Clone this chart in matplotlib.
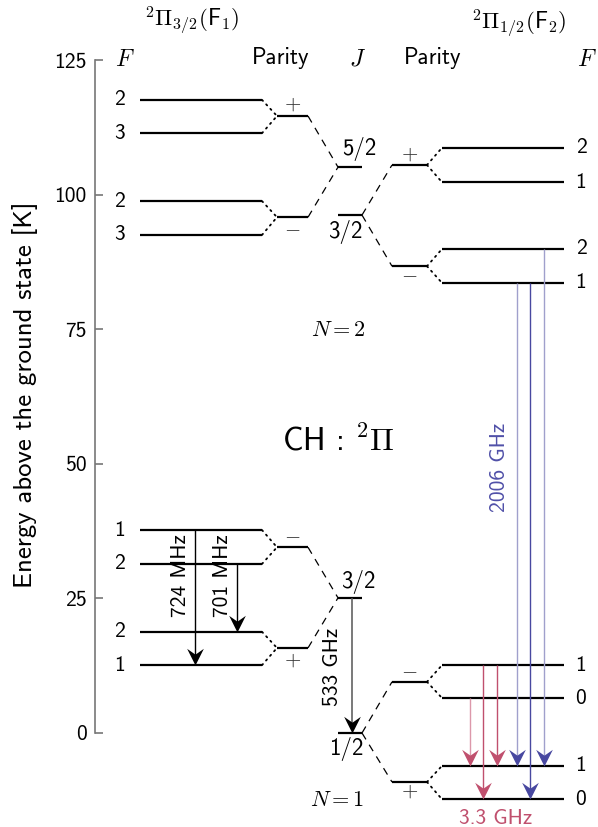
import matplotlib
matplotlib.use("Agg")
import matplotlib.pyplot as plt
from matplotlib.path import Path

plt.rcParams['font.family'] = ['cmss10', 'DejaVu Sans']
plt.rcParams['mathtext.fontset'] = 'cm'
plt.rcParams['axes.unicode_minus'] = False

# ---------------- data (energies in K) ----------------
# N = 2 manifold
f1_n2_parity = ['+', '-']
f1_n2_parity_E = [114.6, 95.8]
f1_n2_F = [[2, 3], [2, 3]]
f1_n2_F_E = [[117.6, 111.4], [98.8, 92.5]]
J_n2 = ['5/2', '3/2']
J_n2_E = [105.1, 96.2]
f2_n2_parity = ['+', '-']
f2_n2_parity_E = [105.5, 86.7]
f2_n2_F = [[2, 1], [2, 1]]
f2_n2_F_E = [[108.7, 102.3], [89.9, 83.6]]

# N = 1 manifold
f1_n1_parity = ['-', '+']
f1_n1_parity_E = [34.5, 15.8]
f1_n1_F = [[1, 2], [2, 1]]
f1_n1_F_E = [[37.7, 31.4], [18.8, 12.6]]
J_n1 = ['3/2', '1/2']
J_n1_E = [25.1, 0.0]
f2_n1_parity = ['-', '+']
f2_n1_parity_E = [9.5, -9.1]
f2_n1_F = [[1, 0], [1, 0]]
f2_n1_F_E = [[12.6, 6.5], [-6.1, -12.3]]

# transitions (upper E, lower E)
trans_724 = (37.7, 12.6)
trans_701 = (31.4, 18.8)
trans_533 = (25.1, 0.0)
trans_2006 = [(83.6, -6.1), (83.6, -12.3), (89.9, -6.1)]
trans_3p3 = [(6.5, -6.1), (12.6, -12.3), (12.6, -6.1)]

yticks = [0, 25, 50, 75, 100, 125]

# ---------------- layout ----------------
W, H = 598, 827
px_per_K = 673 / 125.0
y0_px = 733
fig = plt.figure(figsize=(W / 100, H / 100), dpi=100)
ax = fig.add_axes([95 / W, 0, 1 - 95 / W, 1])
ax.set_xlim(95, W)
ax.set_ylim(-(H - y0_px) / px_per_K, y0_px / px_per_K)
for s in ['top', 'right', 'bottom']:
    ax.spines[s].set_visible(False)
ax.spines['left'].set_bounds(0, 125)
ax.spines['left'].set_color('#777777')
ax.spines['left'].set_linewidth(1.2)
ax.set_xticks([])
ax.set_yticks(yticks)
ax.set_yticklabels([str(t) for t in yticks])
ax.tick_params(axis='y', direction='in', length=6, color='#777777', width=1.2,
               labelsize=15.5, pad=6)
fig.text(25 / W, 1 - 395 / H, 'Energy above the ground state [K]', rotation=90,
         ha='center', va='center', fontsize=19.3)


def ypx(p):
    return (y0_px - p) / px_per_K


# x positions (pixel-like data units)
F1_x = (140, 262)
P1_x = (277, 308)
J_x = (338, 362)
P2_x = (392, 427)
F2_x = (442, 564)
F1_lab_x = 119
F2_lab_x = 581

lvl = dict(color='black', lw=1.6, solid_capstyle='butt')
dot = dict(color='black', lw=1.3, linestyle=(0, (0.8, 2.6)), dash_capstyle='round')
dash = dict(color='black', lw=0.9, linestyle=(0, (6, 5)))
fs = 15.5


def sign(s):
    return r'$+$' if s == '+' else r'$-$'


def manifold(f1p, f1pE, f1F, f1FE, Jl, JE, f2p, f2pE, f2F, f2FE, jpos):
    for i in range(2):
        pe = f1pE[i]
        ax.plot(P1_x, [pe, pe], **lvl)
        dy = 2.2 if i == 0 else -2.2
        ax.text(sum(P1_x) / 2, pe + dy, sign(f1p[i]), ha='center', va='center',
                fontsize=15, color='#333333')
        for fval, fe in zip(f1F[i], f1FE[i]):
            ax.plot(F1_x, [fe, fe], **lvl)
            ax.plot([F1_x[1], P1_x[0]], [fe, pe], **dot)
            ax.text(F1_lab_x, fe, str(fval), ha='center', va='center', fontsize=fs)
        ax.plot([P1_x[1], J_x[0]], [pe, JE[0]], **dash)
    for k in range(2):
        ax.plot(J_x, [JE[k], JE[k]], **lvl)
    (xa, ya), (xb, yb) = jpos
    ax.text(xa, JE[0] + ya, Jl[0], ha='center', va='center', fontsize=16.5)
    ax.text(xb, JE[1] + yb, Jl[1], ha='center', va='center', fontsize=16.5)
    for i in range(2):
        pe = f2pE[i]
        ax.plot(P2_x, [pe, pe], **lvl)
        dy = 2.0 if i == 0 else -1.6
        ax.text(sum(P2_x) / 2, pe + dy, sign(f2p[i]), ha='center', va='center',
                fontsize=15, color='#333333')
        ax.plot([J_x[1], P2_x[0]], [JE[1], pe], **dash)
        for fval, fe in zip(f2F[i], f2FE[i]):
            ax.plot(F2_x, [fe, fe], **lvl)
            ax.plot([P2_x[1], F2_x[0]], [pe, fe], **dot)
            ax.text(F2_lab_x, fe, str(fval), ha='center', va='center', fontsize=fs)


manifold(f1_n2_parity, f1_n2_parity_E, f1_n2_F, f1_n2_F_E, J_n2, J_n2_E,
         f2_n2_parity, f2_n2_parity_E, f2_n2_F, f2_n2_F_E,
         [(359, 3.3), (345, -3.1)])
manifold(f1_n1_parity, f1_n1_parity_E, f1_n1_F, f1_n1_F_E, J_n1, J_n1_E,
         f2_n1_parity, f2_n1_parity_E, f2_n1_F, f2_n1_F_E,
         [(358, 2.9), (346, -2.9)])

# stealth-like arrow head, tip at origin pointing down
head = Path([(0, 0), (-0.5, 1.0), (0, 0.65), (0.5, 1.0), (0, 0)],
            [Path.MOVETO, Path.LINETO, Path.LINETO, Path.LINETO, Path.CLOSEPOLY])
head_len_K = 9.0 / px_per_K


def arrow(x, e1, e2, line_color, head_color, lw=1.0):
    ax.plot([x, x], [e1, e2 + head_len_K], color=line_color, lw=lw,
            solid_capstyle='butt')
    ax.plot([x], [e2], marker=head, markersize=24, color=head_color,
            markeredgewidth=0, linestyle='none')


arrow(195, *trans_724, 'black', 'black')
arrow(237, *trans_701, 'black', 'black')
arrow(352, *trans_533, '#555555', 'black', lw=1.1)
ax.text(181, 29.2, '724 MHz', rotation=90, ha='center', va='center', fontsize=fs)
ax.text(223, 29.2, '701 MHz', rotation=90, ha='center', va='center', fontsize=fs)
ax.text(333, 12.2, '533 GHz', rotation=90, ha='center', va='center', fontsize=fs)

blue_light = '#a0a0cc'
blue_dark = '#4848a0'
red = '#c0506e'
red_light = '#dc98aa'
for x, (e1, e2), c in zip([517, 530, 544], trans_2006, [blue_light, blue_dark, blue_light]):
    arrow(x, e1, e2, c, blue_dark)
for x, (e1, e2), c in zip([470, 483, 497], trans_3p3, [red_light, red, red]):
    arrow(x, e1, e2, c, red)
ax.text(500, 49.4, '2006 GHz', rotation=90, ha='center', va='center', fontsize=fs,
        color='#5050a8')
ax.text(496, ypx(818), '3.3 GHz', ha='center', va='center', fontsize=fs, color=red)

# headers
ax.text(192, ypx(20), r'$^2\Pi_{3/2}(\mathsf{F}_1)$', ha='center', va='center', fontsize=16.5)
ax.text(519, ypx(23), r'$^2\Pi_{1/2}(\mathsf{F}_2)$', ha='center', va='center', fontsize=16.5)
ax.text(125, ypx(60), r'$F$', ha='center', va='center', fontsize=17)
ax.text(281, ypx(58), 'Parity', ha='center', va='center', fontsize=16.5)
ax.text(358, ypx(60), r'$J$', ha='center', va='center', fontsize=17)
ax.text(433, ypx(58), 'Parity', ha='center', va='center', fontsize=16.5)
ax.text(587, ypx(60), r'$F$', ha='center', va='center', fontsize=17)
ax.text(338, ypx(330), r'$N{=}\mathsf{2}$', ha='center', va='center', fontsize=16)
ax.text(337, ypx(800), r'$N{=}\mathsf{1}$', ha='center', va='center', fontsize=16)
ax.text(338, ypx(440), r'CH : $^2\Pi$', ha='center', va='center', fontsize=23)

fig.savefig('out.png', dpi=100)
